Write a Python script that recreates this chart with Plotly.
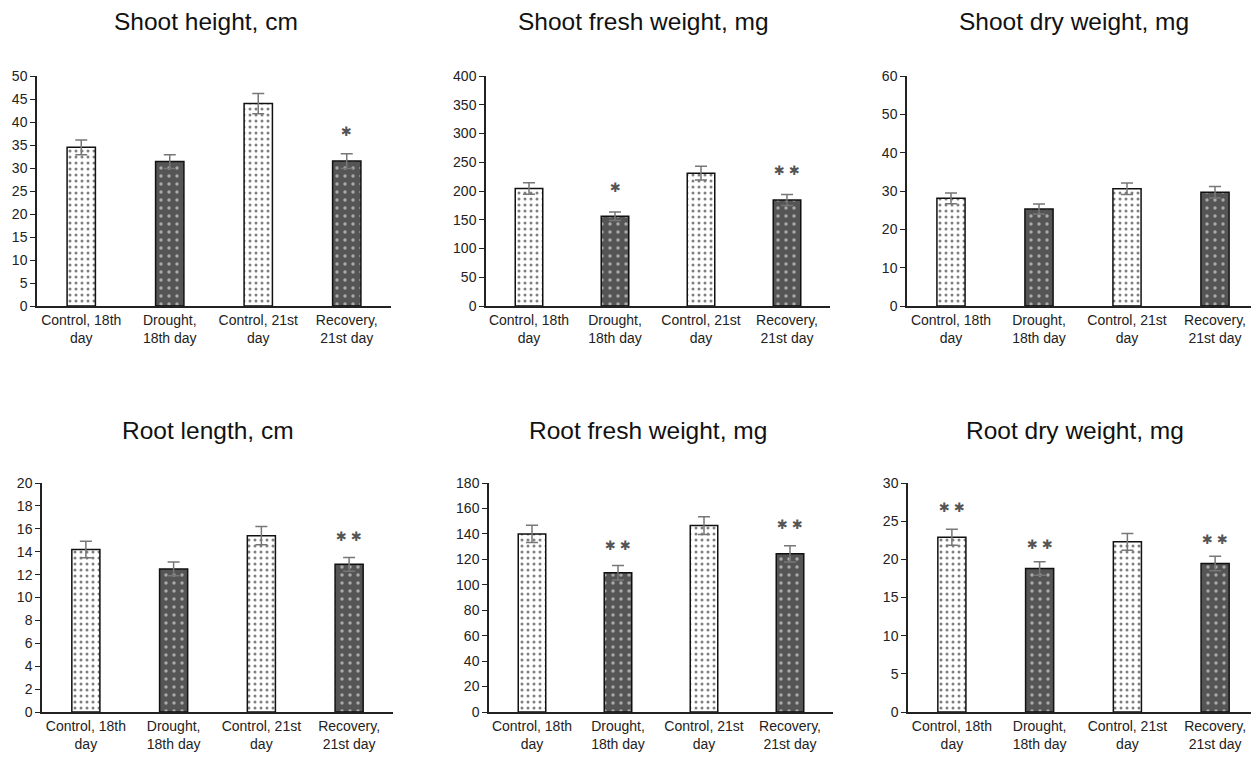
import plotly.graph_objects as go

# ---- data ----
categories = ["Control, 18th<br>day", "Drought,<br>18th day", "Control, 21st<br>day", "Recovery,<br>21st day"]
titles = ["Shoot height, cm", "Shoot fresh weight, mg", "Shoot dry weight, mg",
          "Root length, cm", "Root fresh weight, mg", "Root dry weight, mg"]

shoot_height = [34.5, 31.4, 44.0, 31.5]
shoot_height_err = [1.6, 1.5, 2.2, 1.6]
shoot_fresh = [204.5, 156.0, 231.0, 184.5]
shoot_fresh_err = [10.0, 7.5, 12.0, 9.5]
shoot_dry = [28.1, 25.3, 30.6, 29.7]
shoot_dry_err = [1.4, 1.3, 1.5, 1.5]
root_length = [14.2, 12.5, 15.4, 12.9]
root_length_err = [0.72, 0.6, 0.8, 0.6]
root_fresh = [140.0, 109.5, 146.5, 124.3]
root_fresh_err = [6.8, 5.7, 7.0, 6.3]
root_dry = [22.9, 18.8, 22.3, 19.45]
root_dry_err = [1.05, 0.87, 1.1, 0.95]

# significance marks: (bar index, y value, text)
sig_shoot_height = [(3, 37.9, "✱")]
sig_shoot_fresh = [(1, 205.5, "✱"), (3, 236.0, "✱ ✱")]
sig_shoot_dry = []
sig_root_length = [(3, 15.3, "✱ ✱")]
sig_root_fresh = [(1, 130.5, "✱ ✱"), (3, 147.3, "✱ ✱")]
sig_root_dry = [(0, 26.8, "✱ ✱"), (1, 22.0, "✱ ✱"), (3, 22.6, "✱ ✱")]

y_ranges = [50, 400, 60, 20, 180, 30]
y_dticks = [5, 50, 10, 2, 20, 5]

values = [shoot_height, shoot_fresh, shoot_dry, root_length, root_fresh, root_dry]
errors = [shoot_height_err, shoot_fresh_err, shoot_dry_err, root_length_err, root_fresh_err, root_dry_err]
sigs = [sig_shoot_height, sig_shoot_fresh, sig_shoot_dry, sig_root_length, sig_root_fresh, sig_root_dry]

control_idx = [0, 2]
stress_idx = [1, 3]

# ---- layout geometry (target page pixels; page body has an 8px margin) ----
OFF = 8
W, H = 1259 - OFF, 764 - OFF
x_px = [(37, 391), (486, 830), (907, 1259), (42, 393), (489, 833), (908, 1259)]
y_px = [(76, 306)] * 3 + [(483, 712)] * 3
title_px = [(206, 22), (644, 22), (1074, 22), (208, 430), (648, 430), (1075, 430)]


def fx(p):
    return (p - OFF) / W


def fy(p):
    return 1 - (p - OFF) / H


FONT = "Liberation Sans, Arial, sans-serif"
fig = go.Figure()

styles = {
    "control": dict(bg="#ffffff", fg="#000000", size=6, solidity=0.2),
    "stress": dict(bg="#555555", fg="#ffffff", size=8, solidity=0.14),
}

annotations = []
for i in range(6):
    n = "" if i == 0 else str(i + 1)
    xa, ya = "x" + n, "y" + n
    for key, idx in (("control", control_idx), ("stress", stress_idx)):
        st = styles[key]
        fig.add_trace(go.Bar(
            x=idx, y=[values[i][k] for k in idx],
            xaxis=xa, yaxis=ya, width=0.32,
            marker=dict(
                color=st["bg"],
                line=dict(color="#111111", width=1.5),
                pattern=dict(shape=".", fgcolor=st["fg"], bgcolor=st["bg"],
                             size=st["size"], solidity=st["solidity"],
                             fillmode="overlay"),
            ),
            error_y=dict(type="data", array=[errors[i][k] for k in idx], visible=True,
                         color="#777777", thickness=1.5, width=6),
            showlegend=False, hoverinfo="y",
        ))
    (x0, x1), (yt, yb) = x_px[i], y_px[i]
    fig.layout["xaxis" + n] = dict(
        domain=[fx(x0), min(1.0, fx(x1))], anchor=ya, range=[-0.5, 3.5],
        tickmode="array", tickvals=list(range(4)), ticktext=categories,
        showline=True, linecolor="#222222", linewidth=1.5, ticks="",
        showgrid=False, zeroline=False, fixedrange=True, automargin=False,
        tickfont=dict(family=FONT, size=14, color="#222222"),
    )
    fig.layout["yaxis" + n] = dict(
        domain=[fy(yb), fy(yt)], anchor=xa, range=[0, y_ranges[i]],
        dtick=y_dticks[i], tick0=0,
        showline=True, linecolor="#222222", linewidth=1.5,
        ticks="outside", ticklen=5, tickcolor="#222222", tickwidth=1,
        showgrid=False, zeroline=False, fixedrange=True, automargin=False,
        tickfont=dict(family=FONT, size=14, color="#222222"),
    )
    tx, ty = title_px[i]
    annotations.append(dict(
        text=titles[i], x=fx(tx), y=fy(ty), xref="paper", yref="paper",
        xanchor="center", yanchor="middle", showarrow=False,
        font=dict(family=FONT, size=24.5, color="#111111"),
    ))
    for (bi, yv, txt) in sigs[i]:
        annotations.append(dict(
            text=txt, x=bi, y=yv, xref=xa, yref=ya,
            xanchor="center", yanchor="middle", showarrow=False,
            font=dict(family="DejaVu Sans", size=13, color="#555555"),
        ))

fig.update_layout(
    width=W, height=H, margin=dict(l=0, r=0, t=0, b=0, autoexpand=False),
    paper_bgcolor="white", plot_bgcolor="white", barmode="overlay",
    annotations=annotations,
)

fig.write_html("out.html")
